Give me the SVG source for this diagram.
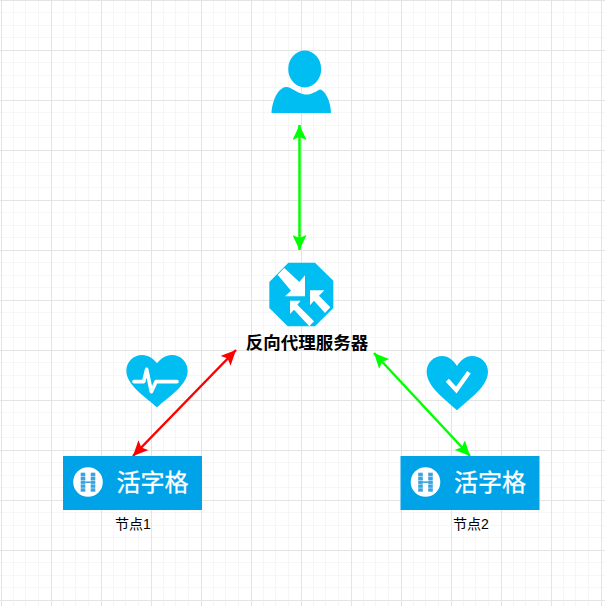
<svg xmlns="http://www.w3.org/2000/svg" width="605" height="606" viewBox="0 0 605 606">
<style>
.cjk{font-family:"Liberation Sans","Noto Sans CJK SC",sans-serif;text-anchor:middle}
.ic{fill:#00bef2}
.box{fill:#00a2e8}
.logo{fill:#fff;font-size:24px}
.lbl{font-size:14px;fill:#000}
.w{fill:#fff}
.hb{fill:#3aa3e3}
.line{fill:none;stroke-width:2.500}
</style>
<defs>
<pattern id="grid" width="50" height="50" x="1" y="0" patternUnits="userSpaceOnUse">
<path d="M12.500 0V50M24.500 0V50M37.500 0V50M0 12.500H50M0 25.500H50M0 37.500H50" fill="none" stroke="#f6f6f6" stroke-width="1"/>
<path d="M0.500 0V50M0 0.500H50" fill="none" stroke="#e4e4e4" stroke-width="1"/>
</pattern>
<marker id="ag" viewBox="0 0 15 14" refX="15" refY="7" markerWidth="15" markerHeight="14" markerUnits="userSpaceOnUse" orient="auto-start-reverse"><path d="M15 7L0 0L3 7L0 14Z" fill="#00ff00"/></marker>
<marker id="ar" viewBox="0 0 15 14" refX="15" refY="7" markerWidth="15" markerHeight="14" markerUnits="userSpaceOnUse" orient="auto-start-reverse"><path d="M15 7L0 0L3 7L0 14Z" fill="#ff0000"/></marker>
<g id="logo">
<rect class="box" width="139" height="54"/>
<circle class="w" cx="25" cy="26" r="14.800"/>
<g class="hb">
<rect x="17.700" y="16.700" width="4.600" height="3.400"/><rect x="17.700" y="20.600" width="4.600" height="3.400"/><rect x="17.700" y="24.500" width="4.600" height="3.400"/><rect x="17.700" y="28.400" width="4.600" height="3.400"/><rect x="17.700" y="32.300" width="4.600" height="3.400"/>
<rect x="27.700" y="16.700" width="4.600" height="3.400"/><rect x="27.700" y="20.600" width="4.600" height="3.400"/><rect x="27.700" y="24.500" width="4.600" height="3.400"/><rect x="27.700" y="28.400" width="4.600" height="3.400"/><rect x="27.700" y="32.300" width="4.600" height="3.400"/>
<rect x="22.300" y="25.400" width="5.400" height="1.600"/>
</g>
<text class="cjk logo" x="89.500" y="35" stroke="#fff" stroke-width=".3">活字格</text>
</g>
</defs>
<rect width="605" height="606" fill="#fff"/>
<rect width="605" height="606" fill="url(#grid)"/>
<g id="connectors">
<path class="line" stroke="#00ff00" d="M299.500 125V250" marker-start="url(#ag)" marker-end="url(#ag)"/>
<path class="line" stroke="#ff0000" d="M236 350L133 456" marker-start="url(#ar)" marker-end="url(#ar)"/>
<path class="line" stroke="#00ff00" d="M374 353L470 456" marker-start="url(#ag)" marker-end="url(#ag)"/>
</g>
<g id="user">
<ellipse class="ic" cx="304.700" cy="69" rx="16.500" ry="18.500"/>
<path class="ic" d="M271.500 113C272.500 100 278 88 286 87C291 86.500 296 93 305 94.500C312 95 316 91 320 89.500C325 90 331 102 331 113Z"/>
</g>
<g id="proxy">
<g transform="translate(265 258) scale(.33333)">
<path class="ic" d="M70 14H150L205 68V150L150 205H68L13 150V72Z"/>
<g class="w">
<path d="M58 30L103 72L120 52V115H60L78 98L38 50Z"/>
<path d="M135 97H178L162 113L196 148L180 165L147 128L135 142Z"/>
<path d="M75 128H107L97 140L147 190L133 205L87 155L75 168Z"/>
</g>
</g>
<text class="cjk" x="307" y="349" font-size="17.500" font-weight="700">反向代理服务器</text>
</g>
<g id="heart1">
<g transform="translate(122 350) scale(.33333)">
<path class="ic" d="M105 172C70 140 13 105 13 62C13 35 35 15 60 15C80 15 95 27 105 40C115 27 130 15 150 15C175 15 197 35 197 62C197 105 140 140 105 172Z"/>
<path d="M36 95H65L74 58L88 125L102 95H165" fill="none" stroke="#fff" stroke-width="11" stroke-linecap="round" stroke-linejoin="round"/>
</g>
</g>
<g id="heart2">
<g transform="translate(422 350) scale(.33333)">
<path class="ic" d="M105 181C70 148 14 110 14 65C14 38 36 18 60 18C80 18 95 32 105 48C115 32 130 18 150 18C176 18 198 38 198 65C198 110 140 148 105 181Z"/>
<path d="M76 91L103 120L141 67" fill="none" stroke="#fff" stroke-width="13"/>
</g>
</g>
<g id="node1">
<use href="#logo" x="63" y="456"/>
<text class="cjk lbl" x="133" y="529">节点1</text>
</g>
<g id="node2">
<use href="#logo" x="400.500" y="456"/>
<text class="cjk lbl" x="471" y="529">节点2</text>
</g>
</svg>
